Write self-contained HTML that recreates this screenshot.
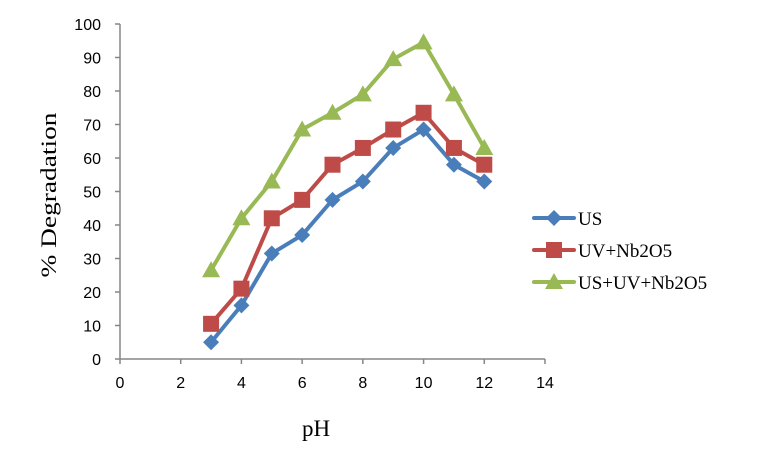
<!DOCTYPE html>
<html><head><meta charset="utf-8"><style>
body{margin:0;background:#fff}
svg{display:block}
.tk{font-family:"Liberation Sans",sans-serif;font-size:16px;fill:#000}
.sf{font-family:"Liberation Serif",serif;fill:#000}
</style></head><body>
<svg id="chart" width="761" height="465" viewBox="0 0 761 465" xmlns="http://www.w3.org/2000/svg">
<g id="axes"></g><g id="series"></g><g id="legend"></g>
<text class="sf" x="316" y="436" font-size="23" text-anchor="middle">pH</text>
<text class="sf" transform="translate(56,195) rotate(-90)" font-size="22" text-anchor="middle" textLength="165" lengthAdjust="spacingAndGlyphs">% Degradation</text>
</svg>
<script>
const phValues=[3,4,5,6,7,8,9,10,11,12];
const usValues=[5,16,31.5,37,47.5,53,63,68.5,58,53];
const uvValues=[10.5,21,42,47.5,58,63,68.5,73.5,63,58];
const usuvValues=[26.5,42,53,68.5,73.5,79,89.5,94.5,79,63];
const xTicks=[0,2,4,6,8,10,12,14];
const yTicks=[0,10,20,30,40,50,60,70,80,90,100];
const seriesNames=["US","UV+Nb2O5","US+UV+Nb2O5"];
const NS="http://www.w3.org/2000/svg";
const X0=120,X1=545,Y0=359,Y1=24;
const xs=v=>X0+(v-0)/14*(X1-X0);
const ys=v=>Y0-(v-0)/100*(Y0-Y1);
function mk(t,a,p){const e=document.createElementNS(NS,t);for(const k in a)e.setAttribute(k,a[k]);p.appendChild(e);return e;}
const ax=document.getElementById('axes');
let l=mk('line',{x1:X0,y1:Y0,x2:X1,y2:Y0,stroke:'#868686','stroke-width':1.5},ax);


l=mk('line',{x1:X0,y1:Y0,x2:X0,y2:Y1,stroke:'#868686','stroke-width':1.5},ax);


xTicks.forEach(v=>{mk('line',{x1:xs(v),y1:Y0,x2:xs(v),y2:Y0+5,stroke:'#868686','stroke-width':1.5},ax);
const t=mk('text',{x:xs(v),y:Y0+29,'text-anchor':'middle',class:'tk'},ax);t.textContent=v;

});
yTicks.forEach(v=>{mk('line',{x1:X0-5,y1:ys(v),x2:X0,y2:ys(v),stroke:'#868686','stroke-width':1.5},ax);
const t=mk('text',{x:X0-19,y:ys(v)+6,'text-anchor':'end',class:'tk'},ax);t.textContent=v;

});
const colors=['#4a7ebb','#be4b48','#98b954'];
const marks=['diamond','square','triangle'];
function marker(g,type,x,y,c){
 if(type==='diamond')return mk('polygon',{points:`${x},${y-8} ${x+8},${y} ${x},${y+8} ${x-8},${y}`,fill:c},g);
 if(type==='square')return mk('rect',{x:x-8,y:y-8,width:16,height:16,fill:c},g);
 return mk('polygon',{points:`${x},${y-9} ${x+9},${y+7} ${x-9},${y+7}`,fill:c},g);
}
const sg=document.getElementById('series');
[usValues,uvValues,usuvValues].forEach((vals,i)=>{
 const g=mk('g',{},sg);
 
 
 const p=mk('polyline',{points:phValues.map((x,j)=>xs(x)+','+ys(vals[j])).join(' '),fill:'none',stroke:colors[i],'stroke-width':4,'stroke-linejoin':'round'},g);
 
 
 phValues.forEach((x,j)=>{const m=marker(g,marks[i],xs(x),ys(vals[j]),colors[i]);
 
 });
});
const lg=document.getElementById('legend');
seriesNames.forEach((n,i)=>{const y=218+i*32;
 const g=mk('g',{},lg);
 
 
 mk('line',{x1:534,y1:y,x2:574,y2:y,stroke:colors[i],'stroke-width':4,'stroke-linecap':'round'},g);
 marker(g,marks[i],554,y,colors[i]);
 const t=mk('text',{x:578,y:y+7,class:'sf','font-size':19},g);t.textContent=n;});
</script>
</body></html>
